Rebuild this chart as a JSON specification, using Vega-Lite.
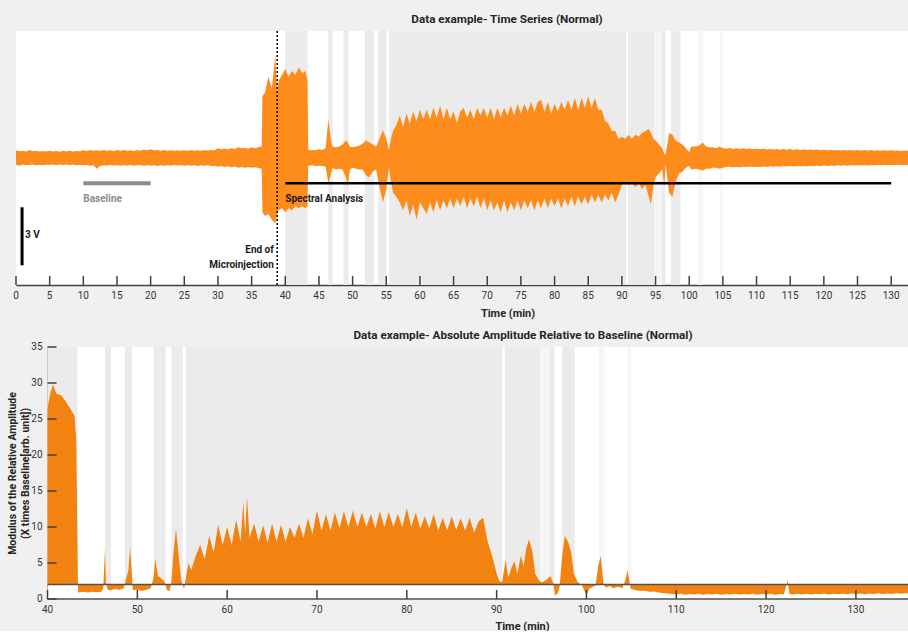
{
"$schema": "https://vega.github.io/schema/vega-lite/v6.json",
"background": "#f0f0f0",
"padding": {"left": 7, "top": 13, "right": 0, "bottom": 0},
"config": {
  "font": "Roboto",
  "view": {"fill": "white", "stroke": null},
  "axis": {"grid": false, "ticks": false, "labels": false, "zindex": 1, "domainColor": "#404040", "domainWidth": 1.5, "titleColor": "#262626", "titleFontSize": 11, "titleFontWeight": "bold"},
  "text": {"font": "Roboto", "fontSize": 10, "color": "#333333"},
  "title": {"fontSize": 11.7, "fontWeight": "bold", "color": "#262626", "offset": 5, "frame": "group"}
},
"datasets": {
  "shades": [
    {"a": 40.0, "b": 43.33, "k": "g"},
    {"a": 46.4, "b": 47.05, "k": "g"},
    {"a": 48.63, "b": 49.4, "k": "g"},
    {"a": 51.82, "b": 53.15, "k": "g"},
    {"a": 53.8, "b": 55.05, "k": "g"},
    {"a": 55.42, "b": 90.65, "k": "g"},
    {"a": 90.9, "b": 94.85, "k": "g"},
    {"a": 94.85, "b": 95.9, "k": "l"},
    {"a": 95.9, "b": 96.45, "k": "g"},
    {"a": 97.3, "b": 98.7, "k": "g"},
    {"a": 101.35, "b": 102.0, "k": "l"},
    {"a": 104.6, "b": 105.0, "k": "l"}
  ],
  "ticksTop": [
    {"t":0},{"t":5},{"t":10},{"t":15},{"t":20},{"t":25},{"t":30},{"t":35},{"t":40},{"t":45},{"t":50},{"t":55},{"t":60},{"t":65},
    {"t":70},{"t":75},{"t":80},{"t":85},{"t":90},{"t":95},{"t":100},{"t":105},{"t":110},{"t":115},{"t":120},{"t":125},{"t":130}
  ],
  "ticksBotX": [
    {"t":40},{"t":50},{"t":60},{"t":70},{"t":80},{"t":90},{"t":100},{"t":110},{"t":120},{"t":130}
  ],
  "ticksBotY": [
    {"v":0},{"v":5},{"v":10},{"v":15},{"v":20},{"v":25},{"v":30},{"v":35}
  ],
  "sig": [
    {"t":0,"h":0.4,"l":-0.35},{"t":0.5,"h":0.35,"l":-0.4},{"t":1,"h":0.38,"l":-0.33},{"t":1.5,"h":0.33,"l":-0.38},
    {"t":2,"h":0.42,"l":-0.36},{"t":2.5,"h":0.35,"l":-0.33},{"t":3,"h":0.37,"l":-0.38},{"t":3.5,"h":0.33,"l":-0.35},
    {"t":4,"h":0.36,"l":-0.37},{"t":4.5,"h":0.34,"l":-0.33},{"t":5,"h":0.38,"l":-0.36},{"t":5.5,"h":0.33,"l":-0.34},
    {"t":6,"h":0.36,"l":-0.38},{"t":6.5,"h":0.32,"l":-0.33},{"t":7,"h":0.37,"l":-0.36},{"t":7.5,"h":0.34,"l":-0.34},
    {"t":8,"h":0.38,"l":-0.37},{"t":8.5,"h":0.33,"l":-0.33},{"t":9,"h":0.36,"l":-0.38},{"t":9.5,"h":0.35,"l":-0.35},
    {"t":10,"h":0.4,"l":-0.38},{"t":10.5,"h":0.36,"l":-0.36},{"t":11,"h":0.42,"l":-0.4},{"t":11.5,"h":0.37,"l":-0.37},
    {"t":12,"h":0.4,"l":-0.55},{"t":12.5,"h":0.38,"l":-0.42},{"t":13,"h":0.42,"l":-0.38},{"t":13.5,"h":0.37,"l":-0.4},
    {"t":14,"h":0.4,"l":-0.36},{"t":14.5,"h":0.36,"l":-0.39},{"t":15,"h":0.41,"l":-0.38},{"t":15.5,"h":0.38,"l":-0.4},
    {"t":16,"h":0.42,"l":-0.37},{"t":16.5,"h":0.37,"l":-0.39},{"t":17,"h":0.4,"l":-0.36},{"t":17.5,"h":0.36,"l":-0.4},
    {"t":18,"h":0.41,"l":-0.38},{"t":18.5,"h":0.38,"l":-0.37},{"t":19,"h":0.44,"l":-0.4},{"t":19.5,"h":0.4,"l":-0.38},
    {"t":20,"h":0.45,"l":-0.4},{"t":20.5,"h":0.4,"l":-0.38},{"t":21,"h":0.42,"l":-0.41},{"t":21.5,"h":0.38,"l":-0.37},
    {"t":22,"h":0.41,"l":-0.4},{"t":22.5,"h":0.37,"l":-0.37},{"t":23,"h":0.4,"l":-0.4},{"t":23.5,"h":0.37,"l":-0.36},
    {"t":24,"h":0.4,"l":-0.39},{"t":24.5,"h":0.37,"l":-0.37},{"t":25,"h":0.4,"l":-0.4},{"t":25.5,"h":0.38,"l":-0.37},
    {"t":26,"h":0.41,"l":-0.4},{"t":26.5,"h":0.37,"l":-0.38},{"t":27,"h":0.4,"l":-0.41},{"t":27.5,"h":0.38,"l":-0.38},
    {"t":28,"h":0.41,"l":-0.4},{"t":28.5,"h":0.39,"l":-0.38},{"t":29,"h":0.42,"l":-0.41},{"t":29.5,"h":0.4,"l":-0.4},
    {"t":30,"h":0.5,"l":-0.45},{"t":30.5,"h":0.45,"l":-0.42},{"t":31,"h":0.48,"l":-0.46},{"t":31.5,"h":0.45,"l":-0.43},
    {"t":32,"h":0.5,"l":-0.48},{"t":32.5,"h":0.46,"l":-0.44},{"t":33,"h":0.55,"l":-0.5},{"t":33.5,"h":0.5,"l":-0.46},
    {"t":34,"h":0.52,"l":-0.5},{"t":34.5,"h":0.48,"l":-0.46},{"t":35,"h":0.55,"l":-0.5},{"t":35.5,"h":0.5,"l":-0.48},
    {"t":36,"h":0.55,"l":-0.52},{"t":36.5,"h":0.6,"l":-0.55},{"t":36.6,"h":3.2,"l":-2.8},{"t":37,"h":3.4,"l":-3.0},
    {"t":37.5,"h":4.2,"l":-2.9},{"t":38,"h":3.6,"l":-3.2},{"t":38.5,"h":5.3,"l":-3.4},{"t":38.8,"h":3.3,"l":-2.9},
    {"t":39,"h":4.0,"l":-2.7},{"t":39.5,"h":4.3,"l":-2.6},{"t":40,"h":4.6,"l":-2.8},{"t":40.5,"h":4.2,"l":-2.6},
    {"t":41,"h":4.5,"l":-2.7},{"t":41.5,"h":4.3,"l":-2.5},{"t":42,"h":4.7,"l":-2.6},{"t":42.5,"h":4.4,"l":-2.5},
    {"t":43,"h":4.5,"l":-2.6},{"t":43.3,"h":4.0,"l":-2.5},{"t":43.4,"h":0.45,"l":-0.4},{"t":43.5,"h":0.4,"l":-0.4},
    {"t":44,"h":0.42,"l":-0.38},{"t":44.5,"h":0.4,"l":-0.42},{"t":45,"h":0.45,"l":-0.4},{"t":45.5,"h":0.42,"l":-0.42},
    {"t":46,"h":0.5,"l":-0.45},{"t":46.4,"h":2.0,"l":-1.3},{"t":46.8,"h":0.9,"l":-0.8},{"t":47,"h":0.6,"l":-0.5},
    {"t":47.5,"h":0.55,"l":-0.6},{"t":48,"h":0.6,"l":-0.55},{"t":48.5,"h":0.7,"l":-0.6},{"t":49,"h":0.9,"l":-1.0},
    {"t":49.3,"h":0.8,"l":-1.45},{"t":49.6,"h":0.6,"l":-0.6},{"t":50,"h":0.55,"l":-0.5},{"t":50.5,"h":0.6,"l":-0.55},
    {"t":51,"h":0.65,"l":-0.6},{"t":51.5,"h":0.75,"l":-0.6},{"t":52,"h":0.9,"l":-0.9},{"t":52.5,"h":0.8,"l":-1.0},
    {"t":53,"h":0.7,"l":-0.7},{"t":53.5,"h":0.6,"l":-0.6},{"t":54,"h":1.0,"l":-1.5},{"t":54.5,"h":1.45,"l":-2.3},
    {"t":55,"h":1.0,"l":-1.6},{"t":55.4,"h":0.4,"l":-0.5},{"t":55.7,"h":1.0,"l":-1.2},{"t":56,"h":1.4,"l":-1.8},
    {"t":56.5,"h":1.7,"l":-2.0},{"t":57,"h":2.2,"l":-2.3},{"t":57.5,"h":1.6,"l":-2.7},{"t":58,"h":2.3,"l":-2.2},
    {"t":58.5,"h":1.8,"l":-3.0},{"t":59,"h":2.4,"l":-2.4},{"t":59.5,"h":1.9,"l":-3.2},{"t":60,"h":2.5,"l":-2.3},
    {"t":60.5,"h":2.0,"l":-2.6},{"t":61,"h":2.5,"l":-2.9},{"t":61.5,"h":2.0,"l":-2.3},{"t":62,"h":2.6,"l":-2.8},
    {"t":62.5,"h":2.1,"l":-2.2},{"t":63,"h":2.7,"l":-2.7},{"t":63.5,"h":2.0,"l":-2.2},{"t":64,"h":2.6,"l":-2.6},
    {"t":64.5,"h":2.0,"l":-2.1},{"t":65,"h":2.4,"l":-2.6},{"t":65.5,"h":1.8,"l":-2.1},{"t":66,"h":2.4,"l":-2.5},
    {"t":66.5,"h":2.6,"l":-2.0},{"t":67,"h":2.1,"l":-2.6},{"t":67.5,"h":2.5,"l":-2.1},{"t":68,"h":2.0,"l":-2.5},
    {"t":68.5,"h":2.6,"l":-2.0},{"t":69,"h":2.2,"l":-2.6},{"t":69.5,"h":2.6,"l":-2.1},{"t":70,"h":2.1,"l":-2.7},
    {"t":70.5,"h":2.6,"l":-2.2},{"t":71,"h":2.0,"l":-2.7},{"t":71.5,"h":2.6,"l":-2.3},{"t":72,"h":2.1,"l":-2.8},
    {"t":72.5,"h":2.6,"l":-2.2},{"t":73,"h":2.2,"l":-2.8},{"t":73.5,"h":2.7,"l":-2.3},{"t":74,"h":2.2,"l":-2.7},
    {"t":74.5,"h":2.8,"l":-2.2},{"t":75,"h":2.3,"l":-2.7},{"t":75.5,"h":2.8,"l":-2.2},{"t":76,"h":2.4,"l":-2.6},
    {"t":76.5,"h":2.9,"l":-2.2},{"t":77,"h":2.4,"l":-2.7},{"t":77.5,"h":2.9,"l":-2.2},{"t":78,"h":3.0,"l":-2.6},
    {"t":78.5,"h":2.4,"l":-2.1},{"t":79,"h":2.9,"l":-2.6},{"t":79.5,"h":2.3,"l":-2.1},{"t":80,"h":2.8,"l":-2.5},
    {"t":80.5,"h":2.4,"l":-2.1},{"t":81,"h":2.9,"l":-2.6},{"t":81.5,"h":2.5,"l":-2.1},{"t":82,"h":3.0,"l":-2.5},
    {"t":82.5,"h":2.5,"l":-2.0},{"t":83,"h":3.1,"l":-2.5},{"t":83.5,"h":2.5,"l":-2.0},{"t":84,"h":3.1,"l":-2.4},
    {"t":84.5,"h":2.6,"l":-2.0},{"t":85,"h":3.2,"l":-2.4},{"t":85.5,"h":2.6,"l":-1.9},{"t":86,"h":3.1,"l":-2.3},
    {"t":86.5,"h":2.5,"l":-1.9},{"t":87,"h":2.5,"l":-2.3},{"t":87.5,"h":1.9,"l":-1.9},{"t":88,"h":1.8,"l":-2.2},
    {"t":88.5,"h":1.4,"l":-1.8},{"t":89,"h":1.4,"l":-2.3},{"t":89.5,"h":1.0,"l":-1.9},{"t":90,"h":1.1,"l":-1.4},
    {"t":90.5,"h":1.0,"l":-1.2},{"t":91,"h":1.2,"l":-1.4},{"t":91.5,"h":1.0,"l":-1.3},{"t":92,"h":1.2,"l":-1.5},
    {"t":92.5,"h":1.1,"l":-1.3},{"t":93,"h":1.3,"l":-1.6},{"t":93.5,"h":1.4,"l":-1.4},{"t":94,"h":1.5,"l":-2.0},
    {"t":94.3,"h":1.3,"l":-2.4},{"t":94.7,"h":1.0,"l":-1.4},{"t":95,"h":0.9,"l":-1.0},{"t":95.5,"h":0.7,"l":-0.8},
    {"t":96,"h":0.5,"l":-0.6},{"t":96.3,"h":0.2,"l":-1.5},{"t":96.5,"h":0.2,"l":-0.3},{"t":96.8,"h":0.8,"l":-1.2},
    {"t":97,"h":1.3,"l":-1.8},{"t":97.5,"h":1.2,"l":-2.0},{"t":98,"h":0.9,"l":-1.2},{"t":98.5,"h":0.8,"l":-0.8},
    {"t":99,"h":0.7,"l":-0.7},{"t":99.5,"h":0.5,"l":-0.5},{"t":100,"h":0.3,"l":-0.4},{"t":100.3,"h":0.6,"l":-0.6},
    {"t":100.5,"h":0.6,"l":-0.6},{"t":101,"h":0.6,"l":-0.55},{"t":101.5,"h":0.65,"l":-0.6},{"t":102,"h":0.8,"l":-0.65},
    {"t":102.5,"h":0.6,"l":-0.55},{"t":103,"h":0.55,"l":-0.55},{"t":103.5,"h":0.55,"l":-0.5},{"t":104,"h":0.5,"l":-0.5},
    {"t":104.5,"h":0.6,"l":-0.55},{"t":105,"h":0.5,"l":-0.5},{"t":105.5,"h":0.48,"l":-0.47},{"t":106,"h":0.52,"l":-0.45},
    {"t":106.5,"h":0.47,"l":-0.48},{"t":107,"h":0.5,"l":-0.46},{"t":107.5,"h":0.46,"l":-0.48},{"t":108,"h":0.5,"l":-0.45},
    {"t":108.5,"h":0.47,"l":-0.47},{"t":109,"h":0.49,"l":-0.44},{"t":109.5,"h":0.45,"l":-0.47},{"t":110,"h":0.48,"l":-0.45},
    {"t":110.5,"h":0.45,"l":-0.46},{"t":111,"h":0.48,"l":-0.44},{"t":111.5,"h":0.44,"l":-0.46},{"t":112,"h":0.47,"l":-0.43},
    {"t":112.5,"h":0.44,"l":-0.45},{"t":113,"h":0.47,"l":-0.43},{"t":113.5,"h":0.43,"l":-0.45},{"t":114,"h":0.46,"l":-0.42},
    {"t":114.5,"h":0.43,"l":-0.44},{"t":115,"h":0.46,"l":-0.42},{"t":115.5,"h":0.42,"l":-0.44},{"t":116,"h":0.45,"l":-0.41},
    {"t":116.5,"h":0.42,"l":-0.43},{"t":117,"h":0.45,"l":-0.41},{"t":117.5,"h":0.41,"l":-0.43},{"t":118,"h":0.44,"l":-0.4},
    {"t":118.5,"h":0.41,"l":-0.42},{"t":119,"h":0.44,"l":-0.4},{"t":119.5,"h":0.4,"l":-0.42},{"t":120,"h":0.43,"l":-0.39},
    {"t":120.5,"h":0.4,"l":-0.41},{"t":121,"h":0.43,"l":-0.39},{"t":121.5,"h":0.4,"l":-0.41},{"t":122,"h":0.42,"l":-0.38},
    {"t":122.5,"h":0.39,"l":-0.4},{"t":123,"h":0.42,"l":-0.38},{"t":123.5,"h":0.39,"l":-0.4},{"t":124,"h":0.42,"l":-0.38},
    {"t":124.5,"h":0.39,"l":-0.39},{"t":125,"h":0.41,"l":-0.37},{"t":125.5,"h":0.38,"l":-0.39},{"t":126,"h":0.41,"l":-0.37},
    {"t":126.5,"h":0.38,"l":-0.39},{"t":127,"h":0.41,"l":-0.37},{"t":127.5,"h":0.38,"l":-0.38},{"t":128,"h":0.4,"l":-0.36},
    {"t":128.5,"h":0.37,"l":-0.38},{"t":129,"h":0.4,"l":-0.36},{"t":129.5,"h":0.37,"l":-0.38},{"t":130,"h":0.4,"l":-0.36},
    {"t":130.5,"h":0.37,"l":-0.37},{"t":131,"h":0.39,"l":-0.35},{"t":131.5,"h":0.36,"l":-0.37},{"t":132,"h":0.39,"l":-0.35},
    {"t":132.5,"h":0.37,"l":-0.36}
  ],
  "amp": [
    {"t":40,"v":26.5},{"t":40.3,"v":28.5},{"t":40.6,"v":29.8},{"t":41,"v":28.5},{"t":41.5,"v":28.3},{"t":42,"v":27.5},
    {"t":42.5,"v":26.5},{"t":43,"v":25.5},{"t":43.2,"v":22},{"t":43.4,"v":0.9},{"t":44,"v":1.0},{"t":44.5,"v":0.9},
    {"t":45,"v":1.0},{"t":45.5,"v":0.95},{"t":46,"v":1.0},{"t":46.2,"v":1.5},{"t":46.4,"v":7.0},{"t":46.5,"v":2.2},
    {"t":46.7,"v":1.3},{"t":47,"v":1.2},{"t":47.5,"v":1.4},{"t":48,"v":1.3},{"t":48.5,"v":1.5},{"t":49,"v":4},
    {"t":49.2,"v":7.2},{"t":49.5,"v":1.2},{"t":50,"v":1.3},{"t":50.5,"v":1.1},{"t":51,"v":1.3},{"t":51.5,"v":1.5},
    {"t":51.8,"v":3},{"t":52,"v":5.6},{"t":52.3,"v":3.2},{"t":52.7,"v":2.8},{"t":53,"v":2.5},{"t":53.3,"v":1.2},
    {"t":53.6,"v":1.1},{"t":53.8,"v":2.5},{"t":54,"v":6},{"t":54.3,"v":9.8},{"t":54.6,"v":6},{"t":54.9,"v":2.5},
    {"t":55.2,"v":1.4},{"t":55.4,"v":3},{"t":55.7,"v":5},{"t":56,"v":4.0},{"t":56.5,"v":6.0},{"t":57,"v":7.5},
    {"t":57.5,"v":5.5},{"t":58,"v":8.8},{"t":58.5,"v":6.5},{"t":59,"v":10.3},{"t":59.5,"v":7.5},{"t":60,"v":10},
    {"t":60.5,"v":7.5},{"t":61,"v":11},{"t":61.5,"v":8},{"t":61.8,"v":13.5},{"t":62,"v":9},{"t":62.2,"v":14.2},
    {"t":62.5,"v":8.5},{"t":63,"v":10.5},{"t":63.5,"v":8},{"t":64,"v":10.2},{"t":64.5,"v":7.8},{"t":65,"v":10.5},
    {"t":65.5,"v":8},{"t":66,"v":10.3},{"t":66.5,"v":8},{"t":67,"v":10},{"t":67.5,"v":8.5},{"t":68,"v":10.5},
    {"t":68.5,"v":8.5},{"t":69,"v":11.2},{"t":69.5,"v":9},{"t":70,"v":12.3},{"t":70.5,"v":9.5},{"t":71,"v":11.8},
    {"t":71.5,"v":9.5},{"t":72,"v":12},{"t":72.5,"v":9.8},{"t":73,"v":12.2},{"t":73.5,"v":10},{"t":74,"v":12.3},
    {"t":74.5,"v":10},{"t":75,"v":12},{"t":75.5,"v":10},{"t":76,"v":11.8},{"t":76.5,"v":9.8},{"t":77,"v":12.2},
    {"t":77.5,"v":10},{"t":78,"v":12.1},{"t":78.5,"v":10},{"t":79,"v":11.8},{"t":79.5,"v":10},{"t":80,"v":12.6},
    {"t":80.5,"v":10},{"t":81,"v":12},{"t":81.5,"v":9.8},{"t":82,"v":11.5},{"t":82.5,"v":9.8},{"t":83,"v":11.8},
    {"t":83.5,"v":9.5},{"t":84,"v":11.3},{"t":84.5,"v":9.5},{"t":85,"v":11.5},{"t":85.5,"v":9.6},{"t":86,"v":11.2},
    {"t":86.5,"v":9.5},{"t":87,"v":11.3},{"t":87.5,"v":9.2},{"t":88,"v":10.8},{"t":88.5,"v":11.3},{"t":89,"v":8.0},
    {"t":89.5,"v":6},{"t":90,"v":3.5},{"t":90.3,"v":2.5},{"t":90.6,"v":2.3},{"t":91,"v":5.4},{"t":91.3,"v":3},
    {"t":91.7,"v":4.5},{"t":92,"v":5.2},{"t":92.3,"v":3.5},{"t":92.7,"v":6},{"t":93,"v":4.5},{"t":93.3,"v":7},
    {"t":93.6,"v":8.3},{"t":94,"v":6.5},{"t":94.3,"v":3.5},{"t":94.7,"v":2.6},{"t":95,"v":2.3},{"t":95.5,"v":2.6},
    {"t":96,"v":3.2},{"t":96.3,"v":2.2},{"t":96.5,"v":0.5},{"t":96.8,"v":0.8},{"t":97,"v":1.6},{"t":97.3,"v":6},
    {"t":97.6,"v":8.8},{"t":98,"v":7.8},{"t":98.3,"v":6.5},{"t":98.6,"v":3.5},{"t":99,"v":2.4},{"t":99.5,"v":1.9},
    {"t":100,"v":0.5},{"t":100.3,"v":1.4},{"t":100.7,"v":1.7},{"t":101,"v":1.8},{"t":101.3,"v":4.5},{"t":101.6,"v":6},
    {"t":101.9,"v":2},{"t":102.2,"v":1.6},{"t":102.6,"v":1.8},{"t":103,"v":1.5},{"t":103.5,"v":1.7},{"t":104,"v":1.5},
    {"t":104.3,"v":2.5},{"t":104.6,"v":4},{"t":104.9,"v":1.5},{"t":105,"v":1.4},{"t":105.5,"v":1.2},{"t":106,"v":1.1},
    {"t":106.5,"v":1.15},{"t":107,"v":1.0},{"t":107.5,"v":1.05},{"t":108,"v":0.9},{"t":108.5,"v":0.85},{"t":109,"v":0.75},
    {"t":109.5,"v":0.7},{"t":110,"v":0.62},{"t":110.5,"v":0.72},{"t":111,"v":0.6},{"t":111.5,"v":0.7},{"t":112,"v":0.63},
    {"t":112.5,"v":0.74},{"t":113,"v":0.6},{"t":113.5,"v":0.7},{"t":114,"v":0.62},{"t":114.5,"v":0.72},{"t":115,"v":0.6},
    {"t":115.5,"v":0.7},{"t":116,"v":0.63},{"t":116.5,"v":0.73},{"t":117,"v":0.61},{"t":117.5,"v":0.7},{"t":118,"v":0.64},
    {"t":118.5,"v":0.72},{"t":119,"v":0.6},{"t":119.5,"v":0.7},{"t":120,"v":0.62},{"t":120.5,"v":0.72},{"t":121,"v":0.6},
    {"t":121.5,"v":0.7},{"t":122,"v":0.65},{"t":122.4,"v":2.6},{"t":122.6,"v":0.7},{"t":123,"v":0.62},{"t":123.5,"v":0.72},
    {"t":124,"v":0.64},{"t":124.5,"v":0.74},{"t":125,"v":0.62},{"t":125.5,"v":0.72},{"t":126,"v":0.65},{"t":126.5,"v":0.75},
    {"t":127,"v":0.63},{"t":127.5,"v":0.73},{"t":128,"v":0.66},{"t":128.5,"v":0.76},{"t":129,"v":0.65},{"t":129.5,"v":0.75},
    {"t":130,"v":0.68},{"t":130.5,"v":0.78},{"t":131,"v":0.66},{"t":131.5,"v":0.76},{"t":132,"v":0.7},{"t":132.5,"v":0.8},
    {"t":133,"v":0.68},{"t":133.5,"v":0.78},{"t":134,"v":0.7},{"t":134.5,"v":0.8},{"t":135,"v":0.72},{"t":135.5,"v":0.8},
    {"t":135.8,"v":0.75}
  ]
},
"vconcat": [
  {
    "width": 892,
    "height": 254,
    "title": {"text": "Data example- Time Series (Normal)", "dx": 45},
    "layer": [
      {
        "data": {"name": "shades"},
        "mark": {"type": "rect"},
        "encoding": {
          "x": {"field": "a", "type": "quantitative", "scale": {"domain": [0, 132.5], "nice": false, "zero": false},
                "axis": {"title": "Time (min)", "titleX": 491.5, "titlePadding": 22}},
          "x2": {"field": "b"},
          "color": {"field": "k", "type": "nominal", "scale": {"domain": ["g", "l"], "range": ["#ebebeb", "#f6f6f6"]}, "legend": null}
        }
      },
      {
        "data": {"name": "sig"},
        "mark": {"type": "area", "color": "#fd8c1c", "clip": true},
        "encoding": {
          "x": {"field": "t", "type": "quantitative"},
          "y": {"field": "h", "type": "quantitative", "scale": {"domain": [-6.57, 6.57], "nice": false, "zero": false}, "axis": null},
          "y2": {"field": "l"}
        }
      },
      {
        "data": {"name": "ticksTop"},
        "mark": {"type": "rule", "color": "#404040", "strokeWidth": 1.5},
        "encoding": {"x": {"field": "t", "type": "quantitative"}, "y": {"datum": -6.57}, "y2": {"datum": -6.1}}
      },
      {
        "data": {"name": "ticksTop"},
        "mark": {"type": "text", "baseline": "top", "align": "center", "dy": 6},
        "encoding": {"x": {"field": "t", "type": "quantitative"}, "y": {"datum": -6.57}, "text": {"field": "t", "type": "quantitative"}}
      },
      {
        "data": {"values": [{"t": 38.8}]},
        "mark": {"type": "rule", "color": "#000000", "strokeDash": [2, 2], "strokeWidth": 1.5},
        "encoding": {"x": {"field": "t", "type": "quantitative"}}
      },
      {
        "data": {"values": [{"t": 10, "t2": 20, "h": -1.3}]},
        "mark": {"type": "rule", "color": "#8c8c8c", "strokeWidth": 4},
        "encoding": {"x": {"field": "t", "type": "quantitative"}, "x2": {"field": "t2"}, "y": {"field": "h", "type": "quantitative"}}
      },
      {
        "data": {"values": [{"t": 40, "t2": 130, "h": -1.3}]},
        "mark": {"type": "rule", "color": "#000000", "strokeWidth": 2.5},
        "encoding": {"x": {"field": "t", "type": "quantitative"}, "x2": {"field": "t2"}, "y": {"field": "h", "type": "quantitative"}}
      },
      {
        "data": {"values": [{"t": 0.9, "h": -2.55, "l": -5.55}]},
        "mark": {"type": "rule", "color": "#000000", "strokeWidth": 3},
        "encoding": {"x": {"field": "t", "type": "quantitative"}, "y": {"field": "h", "type": "quantitative"}, "y2": {"field": "l"}}
      },
      {
        "data": {"values": [{"t": 10, "h": -2.1, "s": "Baseline"}]},
        "mark": {"type": "text", "align": "left", "baseline": "middle", "color": "#8c8c8c", "fontWeight": "bold", "fontSize": 10},
        "encoding": {"x": {"field": "t", "type": "quantitative"}, "y": {"field": "h", "type": "quantitative"}, "text": {"field": "s"}}
      },
      {
        "data": {"values": [{"t": 40, "h": -2.1, "s": "Spectral Analysis"}]},
        "mark": {"type": "text", "align": "left", "baseline": "middle", "color": "#1a1a1a", "fontWeight": "bold", "fontSize": 10},
        "encoding": {"x": {"field": "t", "type": "quantitative"}, "y": {"field": "h", "type": "quantitative"}, "text": {"field": "s"}}
      },
      {
        "data": {"values": [{"t": 1.35, "h": -4.0, "s": "3 V"}]},
        "mark": {"type": "text", "align": "left", "baseline": "middle", "color": "#1a1a1a", "fontWeight": "bold", "fontSize": 10},
        "encoding": {"x": {"field": "t", "type": "quantitative"}, "y": {"field": "h", "type": "quantitative"}, "text": {"field": "s"}}
      },
      {
        "data": {"values": [{"t": 38.3, "h": -4.76, "s": "End of"}, {"t": 38.3, "h": -5.54, "s": "Microinjection"}]},
        "mark": {"type": "text", "align": "right", "baseline": "middle", "color": "#1a1a1a", "fontWeight": "bold", "fontSize": 10},
        "encoding": {"x": {"field": "t", "type": "quantitative"}, "y": {"field": "h", "type": "quantitative"}, "text": {"field": "s"}}
      }
    ]
  },
  {
    "width": 892,
    "height": 252,
    "view": {"fill": null, "stroke": null},
    "title": {"text": "Data example- Absolute Amplitude Relative to Baseline (Normal)", "dx": 61, "offset": 0},
    "layer": [
      {
        "data": {"values": [{"a": 40, "b": 135.8}]},
        "mark": {"type": "rect", "color": "white"},
        "encoding": {
          "x": {"field": "a", "type": "quantitative", "scale": {"domain": [36.49, 135.8], "nice": false, "zero": false},
                "axis": {"domain": false, "title": "Time (min)", "titleX": 506, "titlePadding": 21}},
          "x2": {"field": "b"},
          "y": {"datum": 0, "type": "quantitative", "scale": {"domain": [0, 35], "nice": false},
                "axis": {"offset": -31.5, "title": ["Modulus of the Relative Amplitude", "(X times Baseline[arb. unit])"], "titleFontSize": 10.5, "titleLineHeight": 13, "titlePadding": 17}},
          "y2": {"datum": 35}
        }
      },
      {
        "data": {"name": "shades"},
        "mark": {"type": "rect"},
        "encoding": {
          "x": {"field": "a", "type": "quantitative"},
          "x2": {"field": "b"},
          "y": {"datum": 2},
          "y2": {"datum": 35},
          "color": {"field": "k", "type": "nominal", "scale": {"domain": ["g", "l"], "range": ["#ebebeb", "#f6f6f6"]}, "legend": null}
        }
      },
      {
        "data": {"name": "amp"},
        "mark": {"type": "area", "color": "#f28311", "clip": true},
        "encoding": {
          "x": {"field": "t", "type": "quantitative"},
          "y": {"field": "v", "type": "quantitative"},
          "y2": {"datum": 2}
        }
      },
      {
        "data": {"values": [{"a": 40, "b": 135.8, "v": 2}, {"a": 40, "b": 135.8, "v": 0}]},
        "mark": {"type": "rule", "color": "#505050", "strokeWidth": 1.5},
        "encoding": {"x": {"field": "a", "type": "quantitative"}, "x2": {"field": "b"}, "y": {"field": "v", "type": "quantitative"}}
      },
      {
        "data": {"name": "ticksBotX"},
        "mark": {"type": "rule", "color": "#404040", "strokeWidth": 1.5},
        "encoding": {"x": {"field": "t", "type": "quantitative"}, "y": {"datum": 0}, "y2": {"datum": 1.25}}
      },
      {
        "data": {"name": "ticksBotX"},
        "mark": {"type": "text", "baseline": "top", "align": "center", "dy": 6},
        "encoding": {"x": {"field": "t", "type": "quantitative"}, "y": {"datum": 0}, "text": {"field": "t", "type": "quantitative"}}
      },
      {
        "data": {"name": "ticksBotY"},
        "mark": {"type": "rule", "color": "#404040", "strokeWidth": 1.5},
        "encoding": {"y": {"field": "v", "type": "quantitative"}, "x": {"datum": 40}, "x2": {"datum": 41.0}}
      },
      {
        "data": {"name": "ticksBotY"},
        "mark": {"type": "text", "baseline": "middle", "align": "right", "dx": -5},
        "encoding": {"y": {"field": "v", "type": "quantitative"}, "x": {"datum": 40}, "text": {"field": "v", "type": "quantitative"}}
      }
    ]
  }
],
"spacing": 12
}
